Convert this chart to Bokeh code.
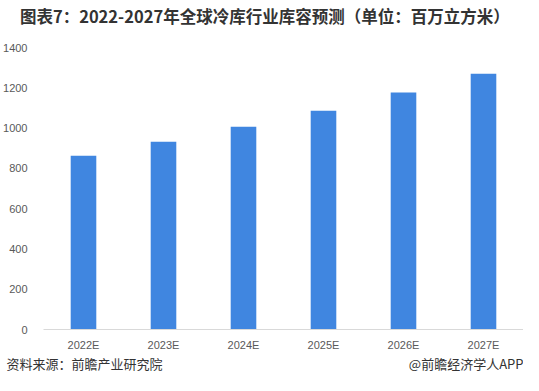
from bokeh.plotting import figure
from bokeh.models import Range1d, FixedTicker, LinearAxis, LinearScale
from bokeh.embed import file_html
from bokeh.resources import INLINE

categories = ["2022E", "2023E", "2024E", "2025E", "2026E", "2027E"]
values = [862, 932, 1006, 1086, 1176, 1270]
y_ticks = [0, 200, 400, 600, 800, 1000, 1200, 1400]

title_text = "图表7：2022-2027年全球冷库行业库容预测（单位：百万立方米）"
source_text = "资料来源：前瞻产业研究院"
brand_text = "@前瞻经济学人APP"

idx = list(range(len(categories)))

W, H = 523, 375
LEFT = 36
p = figure(width=W, height=H, x_range=Range1d(-0.5, len(categories) - 0.5),
           y_range=Range1d(0, 1400),
           output_backend="svg", toolbar_location=None,
           min_border_left=LEFT, min_border_right=0, min_border_top=0, min_border_bottom=0)
p.outline_line_color = None
p.background_fill_color = "white"
p.border_fill_color = "white"
p.grid.grid_line_color = None

p.vbar(x=idx, top=values, width=0.32, color="#4086E0", line_color=None)

p.yaxis.ticker = FixedTicker(ticks=y_ticks)
p.yaxis.axis_line_color = None
p.yaxis.major_tick_line_color = None
p.yaxis.minor_tick_line_color = None
p.yaxis.major_label_standoff = 10
p.yaxis.major_label_text_font = "Liberation Sans"
p.yaxis.major_label_text_font_size = "11px"
p.yaxis.major_label_text_color = "#595959"

p.xaxis.ticker = FixedTicker(ticks=idx)
p.xaxis.major_label_overrides = {i: c for i, c in zip(idx, categories)}
p.xaxis.axis_line_color = "#d9d9d9"
p.xaxis.major_tick_line_color = None
p.xaxis.minor_tick_line_color = None
p.xaxis.major_tick_out = 0
p.xaxis.major_label_standoff = 9
p.xaxis.major_label_text_font = "Liberation Sans"
p.xaxis.major_label_text_font_size = "11px"
p.xaxis.major_label_text_color = "#595959"

# text rows outside the frame, placed with a helper pixel range spanning the frame
frame_w = W - LEFT
p.extra_x_ranges["px"] = Range1d(0, frame_w)
p.extra_x_scales["px"] = LinearScale()

def text_axis(pos, labels, size, style, standoff, line_height):
    return LinearAxis(x_range_name="px", ticker=FixedTicker(ticks=pos),
                      major_label_overrides=dict(zip(pos, labels)),
                      axis_line_color=None, major_tick_line_color=None,
                      minor_tick_line_color=None, major_tick_out=0, major_tick_in=0,
                      major_label_standoff=standoff, major_label_text_font="Noto Sans CJK SC",
                      major_label_text_font_size=size, major_label_text_font_style=style,
                      major_label_text_line_height=line_height,
                      major_label_text_color="#333333")

foot_pos = [41.5, frame_w - 58]
p.add_layout(text_axis(foot_pos, [source_text, brand_text], "13px", "normal", 0, 0.8), "below")

title_pos = [224.5]
p.add_layout(text_axis(title_pos, [title_text], "16.5px", "bold", 20, 1.2), "above")

open("out.html", "w").write(file_html(p, INLINE))
